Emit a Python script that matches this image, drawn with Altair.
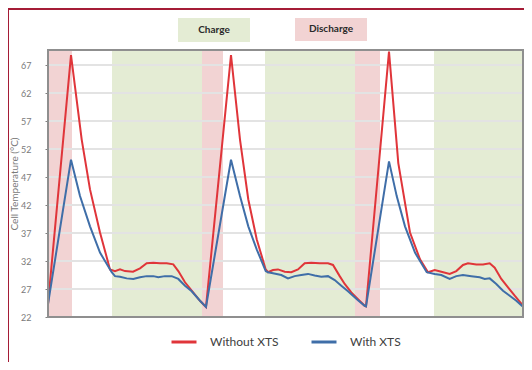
import altair as alt
import pandas as pd

series_names = ["Without XTS", "With XTS"]
series_colors = ["#e0353a", "#3f6ea8"]

# time (arbitrary units) and cell temperature (°C)
t_without = [0, 23, 33.7, 42, 52, 62, 67, 72, 77, 85, 92, 98.7, 105.3, 112, 118.7, 125.3, 130.3, 137, 143.7, 152, 158,
             183, 192, 200.3, 208.7, 217.7, 220, 225, 230, 236.7, 243.3, 250, 256.7, 263.3, 271.7, 280, 285, 291.7,
             296.7, 303.3, 310, 316.7, 318,
             341, 350.3, 362, 372, 380, 386.7, 393.3, 401.7, 408.3, 415, 420, 428.3, 435, 441.7, 446.7, 453.3, 460,
             466.7, 473.3, 475]
temp_without = [24.3, 68.8, 53.7, 44.8, 37.1, 30.5, 30.2, 30.5, 30.2, 30.1, 30.7, 31.6, 31.7, 31.6, 31.6, 31.4, 30.2, 28.2, 26.7, 24.9, 23.8,
                68.8, 53.7, 43.0, 35.9, 30.5, 30.0, 30.4, 30.5, 30.1, 30.0, 30.5, 31.6, 31.7, 31.6, 31.6, 31.3, 29.3,
                27.9, 26.4, 25.2, 24.0, 23.9,
                69.4, 49.5, 37.1, 32.3, 30.0, 30.4, 30.1, 29.7, 30.2, 31.3, 31.6, 31.4, 31.4, 31.6, 30.8, 28.8, 27.3,
                25.8, 24.4, 24.1]

t_with = [0, 23, 32, 42, 52, 63.7, 67, 72, 78.7, 85.3, 92, 98.7, 105.3, 110.3, 117, 123.7, 130.3, 137, 143.7, 152, 158,
          183, 192, 200.3, 208.7, 217.7, 220, 225, 233.3, 240, 246.7, 253.3, 260, 266.7, 273.3, 280, 286.7, 293.3,
          300, 310, 316.7, 318,
          341, 348.7, 357, 367, 378.7, 386.7, 393.3, 401.7, 408.3, 415, 423.3, 431.7, 436.7, 441.7, 448.3, 455,
          461.7, 468.3, 474, 475]
temp_with = [24.3, 50.1, 43.6, 38.2, 33.5, 30.0, 29.3, 29.2, 28.9, 28.8, 29.1, 29.3, 29.3, 29.1, 29.3, 29.3, 28.8, 27.6, 26.6, 24.9, 23.8,
             50.1, 43.6, 38.2, 34.1, 30.2, 30.0, 29.8, 29.5, 28.9, 29.3, 29.5, 29.7, 29.4, 29.2, 29.3, 28.6, 27.6,
             26.6, 25.0, 24.0, 23.9,
             49.8, 43.6, 38.2, 33.5, 30.0, 29.7, 29.5, 28.8, 29.3, 29.5, 29.3, 29.1, 28.8, 28.9, 27.9, 26.7,
             25.8, 24.9, 24.0, 23.9]

discharge_start = [0, 154, 307]
discharge_end = [24, 175, 332]
charge_start = [64, 217, 386]
charge_end = [154, 307, 475]

y_ticks = [22, 27, 32, 37, 42, 47, 52, 57, 62, 67]
header_labels = ["Charge", "Discharge"]

W, H = 475, 267
FONT = "Lato"
PINK = "#f2d3d3"
GREEN = "#e4ecd4"

lines_df = pd.concat([
    pd.DataFrame({"t": t_without, "temp": temp_without, "series": series_names[0]}),
    pd.DataFrame({"t": t_with, "temp": temp_with, "series": series_names[1]}),
])
dis_df = pd.DataFrame({"start": discharge_start, "end": discharge_end})
chg_df = pd.DataFrame({"start": charge_start, "end": charge_end})
grid_df = pd.DataFrame({"y": y_ticks})

xscale = alt.Scale(domain=[0, 475], nice=False, zero=False)
yscale = alt.Scale(domain=[22, 69.7], nice=False, zero=False)

yaxis = alt.Axis(
    values=y_ticks, tickCount=10, grid=False, domain=False, tickSize=3, tickColor="#808080",
    labelPadding=14, labelFontSize=9, labelFont=FONT, labelColor="#7a7a7a", labelOverlap=False,
    title="Cell Temperature (°C)", titleFont=FONT, titleFontSize=10, titleColor="#7a7a7a",
    titleFontWeight="normal", titleX=-34, titleY=H / 2, titleAngle=270,
    titleAlign="center", titleBaseline="middle")

dis = alt.Chart(dis_df).mark_rect(fill=PINK).encode(
    x=alt.X("start:Q", scale=xscale, axis=None), x2="end:Q",
    y=alt.value(0), y2=alt.value(H))
chg = alt.Chart(chg_df).mark_rect(fill=GREEN).encode(
    x=alt.X("start:Q", scale=xscale, axis=None), x2="end:Q",
    y=alt.value(0), y2=alt.value(H))

grid = alt.Chart(grid_df).mark_rule(color="#e3e3e3", strokeWidth=2).encode(
    y=alt.Y("y:Q", scale=yscale, axis=yaxis))

lines = alt.Chart(lines_df).mark_line(strokeWidth=2).encode(
    x=alt.X("t:Q", scale=xscale, axis=None),
    y=alt.Y("temp:Q", scale=yscale, axis=yaxis),
    color=alt.Color("series:N", scale=alt.Scale(domain=series_names, range=series_colors),
                    legend=alt.Legend(orient="none", legendX=122, legendY=278, direction="horizontal",
                                      symbolType="stroke", symbolStrokeWidth=3, symbolSize=625,
                                      labelFontSize=12, labelFont=FONT, labelColor="#404040",
                                      title=None, columnPadding=26, labelOffset=12)),
    detail="series:N")

frame = alt.Chart(pd.DataFrame({"a": [0]})).mark_rect(filled=False, stroke="#8f8f8f", strokeWidth=2).encode(
    x=alt.value(0), x2=alt.value(W), y=alt.value(0), y2=alt.value(H))

hdr_df = pd.DataFrame({"label": [header_labels[0]]})
hdr_df2 = pd.DataFrame({"label": [header_labels[1]]})
box1 = alt.Chart(hdr_df).mark_rect(fill=GREEN).encode(
    x=alt.value(130), x2=alt.value(202), y=alt.value(-32), y2=alt.value(-8))
txt1 = alt.Chart(hdr_df).mark_text(font=FONT, fontSize=10, fontWeight="bold", color="#2a2a2a").encode(
    x=alt.value(166), y=alt.value(-20), text="label:N")
box2 = alt.Chart(hdr_df2).mark_rect(fill=PINK).encode(
    x=alt.value(247), x2=alt.value(319), y=alt.value(-32), y2=alt.value(-9))
txt2 = alt.Chart(hdr_df2).mark_text(font=FONT, fontSize=10, fontWeight="bold", color="#2a2a2a").encode(
    x=alt.value(283), y=alt.value(-21), text="label:N")

deco = pd.DataFrame({"a": [0]})
left_strip = alt.Chart(deco).mark_rect(fill="#a51c36").encode(
    x=alt.value(-40), x2=alt.value(-39), y=alt.value(-42), y2=alt.value(320))
top_strip = alt.Chart(deco).mark_rect(fill="#a51c36").encode(
    x=alt.value(-40), x2=alt.value(490), y=alt.value(-42), y2=alt.value(-40))

chart = alt.layer(dis, chg, grid, lines, frame, box1, txt1, box2, txt2, left_strip, top_strip).properties(
    width=W, height=H,
    padding={"left": 40, "top": 42, "right": 1, "bottom": 45},
    autosize=alt.AutoSizeParams(type="none"),
    background="white",
).configure_view(stroke=None)

chart.save("out.html", embed_options={"renderer": "svg", "actions": False})
